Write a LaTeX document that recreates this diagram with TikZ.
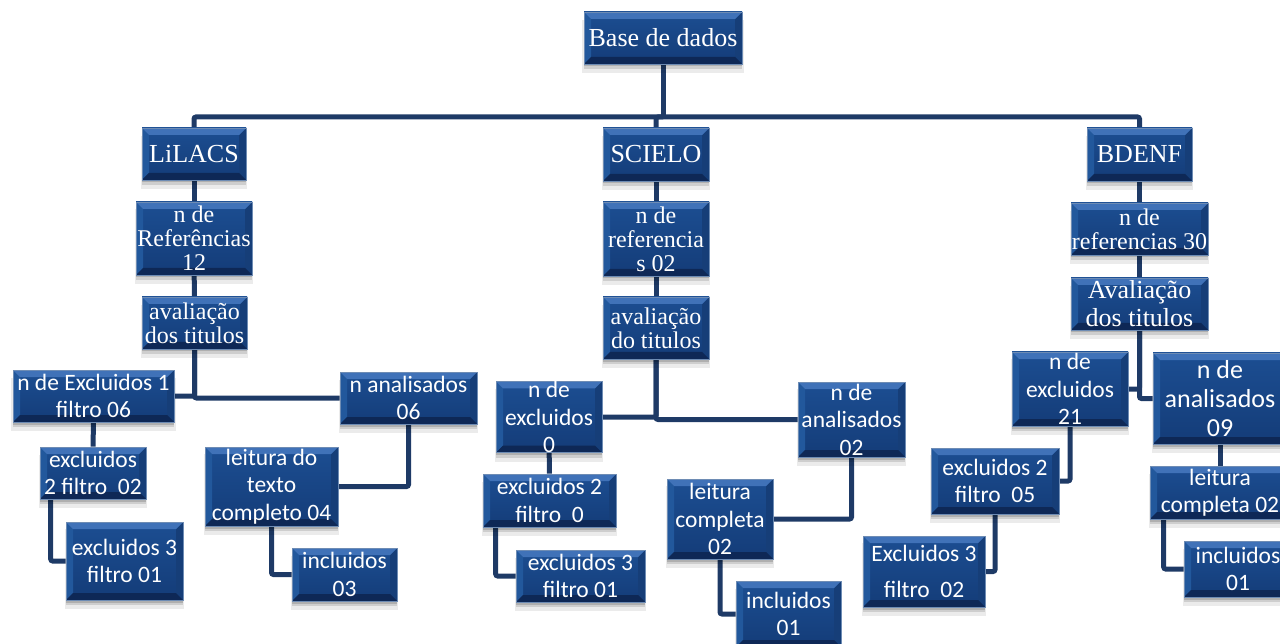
\documentclass[tikz,border=0pt]{standalone}
\usepackage{fontspec}
\setmainfont{Liberation Serif}
\newfontfamily\carl{Carlito}
\usetikzlibrary{shadows,calc}
\definecolor{bxtop}{RGB}{28,78,146}
\definecolor{bxbot}{RGB}{20,60,120}
\definecolor{bxlight}{RGB}{64,114,184}
\definecolor{bxdark}{RGB}{14,40,86}
\definecolor{bxleft}{RGB}{34,88,156}
\definecolor{bxright}{RGB}{22,62,120}
\definecolor{bxedge}{RGB}{110,140,180}
\definecolor{lnk}{RGB}{30,58,102}
\pgfdeclarelayer{bg}
\pgfsetlayers{bg,main}
\tikzset{
  wh/.style 2 args={minimum width=#1pt, minimum height=#2pt},
  box/.style={rectangle, inner sep=0pt, align=center, text=white,
    draw=bxedge, line width=0.6pt, top color=bxtop, bottom color=bxbot,
    drop shadow={opacity=0.08, shadow xshift=0pt, shadow yshift=-8pt, shadow scale=1.02, fill=black},
    drop shadow={opacity=0.12, shadow xshift=0pt, shadow yshift=-5pt, fill=black},
    drop shadow={opacity=0.15, shadow xshift=0pt, shadow yshift=-2.5pt, fill=black},
    path picture={
      \fill[bxleft] (path picture bounding box.north west) -- ([shift={(7pt,-7pt)}]path picture bounding box.north west) -- ([shift={(7pt,7pt)}]path picture bounding box.south west) -- (path picture bounding box.south west) -- cycle;
      \fill[bxright] (path picture bounding box.north east) -- ([shift={(-7pt,-7pt)}]path picture bounding box.north east) -- ([shift={(-7pt,7pt)}]path picture bounding box.south east) -- (path picture bounding box.south east) -- cycle;
      \fill[bxlight] (path picture bounding box.north west) -- (path picture bounding box.north east) -- ([shift={(-7pt,-7pt)}]path picture bounding box.north east) -- ([shift={(7pt,-7pt)}]path picture bounding box.north west) -- cycle;
      \fill[bxdark] (path picture bounding box.south west) -- (path picture bounding box.south east) -- ([shift={(-7pt,7pt)}]path picture bounding box.south east) -- ([shift={(7pt,7pt)}]path picture bounding box.south west) -- cycle;
    }},
  ser/.style={font=\fontsize{24}{24}\selectfont},
  serbig/.style={font=\fontsize{26}{28}\selectfont},
  sans/.style={font=\carl\fontsize{23.5}{27.5}\selectfont},
  sansbig/.style={font=\carl\fontsize{26}{29}\selectfont},
  link/.style={draw=lnk, line width=5pt, rounded corners=2pt},
}
\begin{document}
\begin{tikzpicture}[x=1pt,y=-1pt]
\useasboundingbox (0,0) rectangle (1280,644);
\clip (0,0) rectangle (1280,644);
\coordinate (bus) at (663,117);
% top
\node[box,serbig,wh={158}{52}] (base) at (663,38) {Base de dados};
% LiLACS column
\node[box,serbig,wh={104}{52}] (lil) at (194,154) {LiLACS};
\node[box,ser,wh={116}{73}] (lref) at (194,238.5) {n de\\Referências\\12};
\node[box,ser,wh={105}{52}] (lav) at (194.5,323) {avaliação\\dos titulos};
\node[box,sans,wh={161}{52}] (lexc) at (93.5,396) {n de Excluidos 1\\filtro 06};
\node[box,sans,wh={137}{52}] (lana) at (408.5,398) {n analisados\\06};
\node[box,sans,wh={106}{52}] (lexc2) at (93,473) {excluidos\\2 filtro~ 02};
\node[box,sans,wh={117}{78}] (lexc3) at (124.5,561) {excluidos 3\\filtro 01};
\node[box,sans,wh={133}{79}] (lleit) at (271.5,486.5) {leitura do\\texto\\completo 04};
\node[box,sans,wh={105}{53}] (linc) at (344.5,574.5) {incluidos\\03};
% SCIELO column
\node[box,serbig,wh={106}{53}] (sci) at (656,154.5) {SCIELO};
\node[box,ser,wh={106}{74}] (sref) at (656,239) {n de\\referencia\\s 02};
\node[box,ser,wh={106}{62}] (sav) at (656,328) {avaliação\\do titulos};
\node[box,sans,wh={106}{70}] (sexc) at (549,417) {n de\\excluidos\\0};
\node[box,sans,wh={107}{75}] (sana) at (851.5,419.5) {n de\\analisados\\02};
\node[box,sans,wh={133}{53}] (sexc2) at (549.5,500.5) {excluidos 2\\filtro~ 0};
\node[box,sans,wh={129}{52}] (sexc3) at (580.5,576) {excluidos 3\\filtro 01};
\node[box,sans,wh={106}{80}] (sleit) at (720,519) {leitura\\completa\\02};
\node[box,sans,wh={105}{66}] (sinc) at (788.5,614) {incluidos\\01};
% BDENF column
\node[box,serbig,wh={105}{53}] (bd) at (1139.5,154.5) {BDENF};
\node[box,ser,wh={137}{52}] (bref) at (1139.5,229) {n de\\referencias 30};
\node[box,serbig,wh={137}{52}] (bav) at (1139.5,304) {Avaliação\\dos titulos};
\node[box,sans,wh={116}{74}] (bexc) at (1070,389) {n de\\excluidos\\21};
\node[box,sansbig,wh={134}{91}] (bana) at (1220,398.5) {n de\\analisados\\09};
\node[box,sans,wh={128}{66}] (bexc2) at (995,481) {excluidos 2\\filtro~ 05};
\node[box,sans,wh={122}{71}] (bexc3) at (924,571.5) {Excluidos 3\\[9pt]filtro~ 02};
\node[box,sans,wh={140}{53}] (bleit) at (1220,492.5) {leitura\\completa 02};
\node[box,sans,wh={108}{56}] (binc) at (1238,569) {incluidos\\01};
% connectors
\begin{pgfonlayer}{bg}
\draw[link] (base) -- (bus);
\draw[link] (lil.north) |- (bus);
\draw[link] (sci.north) |- (bus);
\draw[link] (bd.north) |- (bus);
% LiLACS
\draw[link] (lil) -- (lref);
\draw[link] (lref) -- (lav);
\draw[link] (lav.south) |- (lexc.east);
\draw[link] (lav.south) |- (lana.west);
\draw[link] (lexc) -- (lexc2);
\draw[link] (lexc3.west) -| ([xshift=11pt]lexc2.south west);
\draw[link] (lana.south) |- (lleit.east);
\draw[link] (lleit.south) |- (linc.west);
% SCIELO
\draw[link] (sci) -- (sref);
\draw[link] (sref) -- (sav);
\draw[link] (sav.south) |- (sexc.east);
\draw[link] (sav.south) |- (sana.west);
\draw[link] (sexc) -- (sexc2);
\draw[link] (sexc3.west) -| ([xshift=13pt]sexc2.south west);
\draw[link] (sana.south) |- (sleit.east);
\draw[link] (sleit.south) |- (sinc.west);
% BDENF
\draw[link] (bd) -- (bref);
\draw[link] (bref) -- (bav);
\draw[link] (bav.south) |- (bexc.east);
\draw[link] (bav.south) |- (bana.west);
\draw[link] (bexc.south) |- (bexc2.east);
\draw[link] (bexc2.south) |- (bexc3.east);
\draw[link] (bana) -- (bleit);
\draw[link] (binc.west) -| ([xshift=14pt]bleit.south west);
\end{pgfonlayer}
\end{tikzpicture}
\end{document}
